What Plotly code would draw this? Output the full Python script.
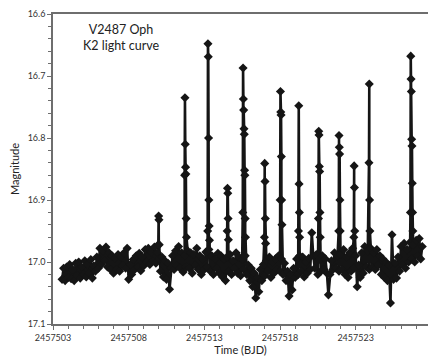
import numpy as np
import plotly.graph_objects as go

BJD0 = 2457503
# Quiescent light curve: days since BJD0, one value every 0.1 d starting at t = 0.6
base_start = 0.6
base_step = 0.1
base_mag = [
    17.028, 17.010, 17.030, 17.008,
    17.025, 17.004, 17.027, 17.012, 17.030, 17.002, 17.022, 17.000, 17.026, 17.008,
    17.020, 16.998, 17.024, 17.004, 17.018, 16.996, 17.026, 17.006, 17.015, 16.992,
    17.010, 16.978, 17.004, 16.982, 16.998, 16.976, 17.008, 16.985, 17.012, 16.990,
    17.018, 16.994, 17.012, 16.988, 17.015, 16.992, 17.006, 16.985, 17.010, 16.978,
    17.028, 17.004, 17.020, 16.996, 17.012, 16.990, 17.008, 16.986, 17.014, 16.992,
    17.006, 16.980, 17.000, 16.978, 17.004, 16.984, 16.998, 16.976, 17.002, 16.985,
    16.995, 17.015, 16.992, 17.024, 16.998, 17.028, 17.002, 17.044, 17.010, 16.990,
    17.012, 16.982, 17.006, 16.975, 17.010, 16.985, 17.016, 16.990, 17.008, 16.982,
    17.010, 16.985, 17.018, 16.988, 17.005, 16.978, 17.012, 16.990, 17.020, 16.995,
    17.012, 16.984, 17.008, 16.980, 17.015, 16.990, 17.020, 16.995, 17.010, 16.986,
    17.018, 16.990, 17.024, 16.995, 17.030, 16.992, 17.015, 16.988, 17.020, 16.998,
    17.010, 16.985, 17.018, 16.992, 17.022, 16.996, 17.012, 16.990, 17.020, 17.005,
    17.030, 17.010, 17.040, 17.018, 17.058, 17.025, 17.048, 17.012, 17.030, 17.004,
    17.022, 16.998, 17.015, 16.992, 17.025, 17.000, 17.018, 16.995, 17.012, 16.990,
    17.015, 16.995, 17.020, 17.002, 17.030, 17.015, 17.055, 17.020, 17.045, 17.010,
    17.025, 16.995, 17.020, 16.990, 17.015, 16.992, 17.024, 17.000, 17.018, 16.994,
    17.012, 16.953, 16.990, 17.010, 16.988, 17.020, 16.996, 17.015, 16.990, 17.012,
    16.995, 17.018, 17.053, 17.020, 16.998, 17.012, 16.985, 17.010, 16.990, 17.015,
    16.988, 17.012, 16.980, 17.020, 16.992, 17.025, 16.985, 17.015, 16.978, 17.010,
    16.990, 17.040, 17.005, 17.025, 16.985, 17.018, 16.975, 17.008, 16.982, 17.012,
    16.978, 17.008, 16.985, 17.012, 16.980, 17.005, 16.990, 17.020, 16.995, 17.025,
    17.000, 17.030, 17.005, 17.066, 16.956, 17.028, 17.002, 17.026, 16.992, 17.015,
    16.975, 17.005, 16.970, 17.010, 16.980, 17.000, 16.968, 16.995, 16.972, 17.000,
    16.965, 16.990, 16.962, 16.995, 16.975,
]

# Outbursts: start time (days since BJD0) and magnitudes sampled every 0.02 d
burst_step = 0.02
burst_start = [6.96, 8.70, 10.22, 11.51, 12.54, 13.97, 15.01, 16.22, 17.54, 18.88, 19.88, 20.88, 23.62]
burst_mags = [
    [16.972, 16.926, 16.932, 16.972],
    [16.860, 16.735, 16.810, 16.847, 16.858, 16.930, 16.960],
    [16.950, 16.648, 16.669, 16.800, 16.900, 16.942, 16.965],
    [16.950, 16.881, 16.889, 16.930, 16.964],
    [16.920, 16.687, 16.737, 16.755, 16.785, 16.794, 16.852, 16.860, 16.930, 16.960],
    [16.960, 16.841, 16.870, 16.930, 16.970],
    [16.900, 16.725, 16.758, 16.763, 16.830, 16.900, 16.940],
    [16.950, 16.748, 16.874, 16.920, 16.960],
    [16.930, 16.789, 16.795, 16.846, 16.854, 16.920, 16.960],
    [16.950, 16.796, 16.815, 16.826, 16.900, 16.950],
    [16.960, 16.845, 16.880, 16.950],
    [16.840, 16.713, 16.900, 16.950],
    [16.920, 16.668, 16.705, 16.725, 16.802, 16.813, 16.873, 16.920, 16.950],
]

t_all = [base_start + i * base_step for i in range(len(base_mag))]
m_all = list(base_mag)
for s, mags in zip(burst_start, burst_mags):
    for j, m in enumerate(mags):
        t_all.append(s + j * burst_step)
        m_all.append(m)
order = np.argsort(t_all, kind="stable")
x = [BJD0 + t_all[i] for i in order]
y = [m_all[i] for i in order]

x_ticks = [2457503, 2457508, 2457513, 2457518, 2457523]
y_ticks = [16.6, 16.7, 16.8, 16.9, 17.0, 17.1]

FONT = "Lato, 'Open Sans', sans-serif"
AX = "#6e6e6e"

fig = go.Figure()
fig.add_trace(go.Scatter(
    x=x, y=y, mode="lines+markers",
    line=dict(color="#151515", width=2.6),
    marker=dict(symbol="diamond", size=7, color="#151515"),
    showlegend=False, hoverinfo="skip",
))

fig.update_layout(
    width=429, height=357,
    margin=dict(l=53, r=1, t=14, b=33),
    paper_bgcolor="white", plot_bgcolor="white",
    font=dict(family=FONT, color="#333333", size=9),
    annotations=[
        dict(text="V2487 Oph<br>K2 light curve", x=0.182, y=0.982, xref="paper", yref="paper",
             showarrow=False, xanchor="center", yanchor="top",
             font=dict(family=FONT, size=12.5, color="#222222"), align="center"),
    ],
)
fig.update_xaxes(
    range=[2457503, 2457527.78], tickvals=x_ticks, ticktext=[str(v) for v in x_ticks],
    showgrid=False, zeroline=False,
    showline=True, linecolor=AX, linewidth=1.5, mirror=True,
    ticks="outside", ticklen=4, tickcolor=AX, tickwidth=1,
    minor=dict(dtick=1, tick0=2457503, ticks="outside", ticklen=3, tickcolor=AX, showgrid=False),
    title=dict(text="Time (BJD)", font=dict(size=11, color="#222222"), standoff=4),
    tickfont=dict(size=9, color="#333333"),
)
fig.update_yaxes(
    range=[17.1, 16.6], tickvals=y_ticks, ticktext=["%.1f" % v for v in y_ticks],
    showgrid=False, zeroline=False,
    showline=True, linecolor=AX, linewidth=1.5, mirror=False,
    ticks="outside", ticklen=4, tickcolor=AX, tickwidth=1,
    minor=dict(dtick=0.02, tick0=16.6, ticks="outside", ticklen=3, tickcolor=AX, showgrid=False),
    title=dict(text="Magnitude", font=dict(size=11, color="#222222"), standoff=6),
    tickfont=dict(size=9, color="#333333"),
)

fig.write_html("out.html")
